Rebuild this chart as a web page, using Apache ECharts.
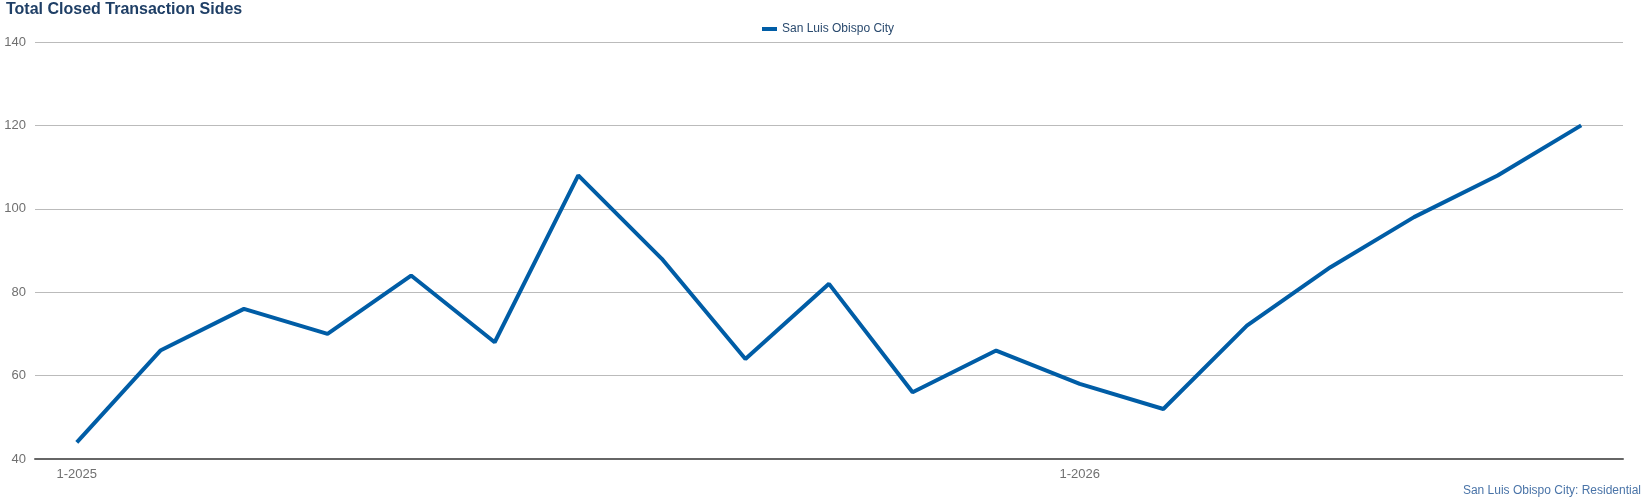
<!DOCTYPE html>
<html>
<head>
<meta charset="utf-8">
<script src="https://cdn.jsdelivr.net/npm/echarts@6/dist/echarts.min.js"></script>
<style>
  html, body { margin: 0; padding: 0; background: #fff; }
  #J_Chart { width: 1652px; height: 502px; }
</style>
</head>
<body>
<div id="J_Chart"></div>
<script>
const months = [
  '1-2025', '2-2025', '3-2025', '4-2025', '5-2025', '6-2025', '7-2025',
  '8-2025', '9-2025', '10-2025', '11-2025', '12-2025',
  '1-2026', '2-2026', '3-2026', '4-2026', '5-2026', '6-2026', '7-2026'
];
const closedSides = [44, 66, 76, 70, 84, 68, 108, 88, 64, 82, 56, 66, 58, 52, 72, 86, 98, 108, 120];
const seriesName = 'San Luis Obispo City';

const chartDom = document.getElementById('J_Chart');
const myChart = echarts.init(chartDom);

const option = {
  animation: false,
  textStyle: { fontFamily: 'Liberation Sans, Arial, sans-serif' },
  title: [{
    text: 'Total Closed Transaction Sides',
    left: 6,
    top: 2,
    padding: 0,
    textStyle: { color: '#1f3f66', fontSize: 16, fontWeight: 'bold' }
  }, {
    text: 'San Luis Obispo City: Residential',
    right: 11,
    bottom: 5,
    padding: 0,
    textStyle: { color: '#4a74a8', fontSize: 12, fontWeight: 'normal' }
  }],
  legend: {
    data: [seriesName],
    left: 757,
    top: 18,
    itemWidth: 15,
    itemHeight: 4,
    itemGap: 5,
    icon: 'rect',
    textStyle: { color: '#2a4a6e', fontSize: 12 }
  },
  grid: { left: 35, right: 29, top: 42, bottom: 43, containLabel: false },
  xAxis: {
    type: 'category',
    data: months,
    boundaryGap: true,
    axisLine: { lineStyle: { color: '#666', width: 2 } },
    axisTick: { interval: 11, length: 6, lineStyle: { color: '#666', width: 1 } },
    axisLabel: { interval: 11, color: '#707070', fontSize: 13, margin: 9 }
  },
  yAxis: {
    type: 'value',
    min: 40,
    max: 140,
    interval: 20,
    axisLine: { show: false },
    axisTick: { show: false },
    axisLabel: { color: '#707070', fontSize: 13, margin: 9 },
    splitLine: { lineStyle: { color: '#bbb', width: 1 } }
  },
  series: [{
    name: seriesName,
    type: 'line',
    data: closedSides,
    showSymbol: false,
    symbol: 'none',
    lineStyle: { color: '#005da6', width: 4 },
    itemStyle: { color: '#005da6' }
  }]
};

myChart.setOption(option);
</script>
</body>
</html>
